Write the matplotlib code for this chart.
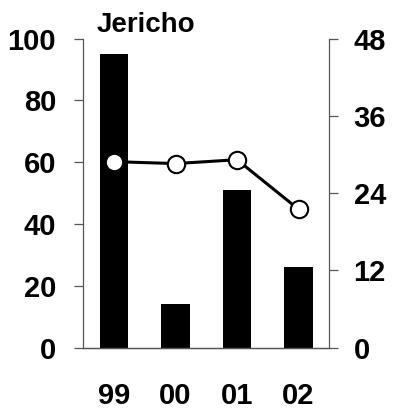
import numpy as np
import matplotlib
matplotlib.use('Agg')
import matplotlib.pyplot as plt

plt.rcParams['font.family'] = ['Liberation Sans', 'DejaVu Sans']
plt.rcParams['font.weight'] = 'bold'

years = ['99', '00', '01', '02']
bar_values = [95, 14, 51, 26]
line_values = [28.9, 28.6, 29.2, 21.5]
left_ticks = [0, 20, 40, 60, 80, 100]
right_ticks = [0, 12, 24, 36, 48]

spine_color = '#555555'

fig = plt.figure(figsize=(4.05, 4.09), dpi=100)
ax = fig.add_axes([0.2057, 0.1499, 0.6073, 0.7555])
x = np.arange(len(years))

ax.bar(x, bar_values, width=0.46, color='black')
ax.set_xlim(-0.5, 3.5)
ax.set_ylim(0, 100)
ax.set_yticks(left_ticks)
ax.set_xticks(x)
ax.set_xticklabels(years)

ax2 = ax.twinx()
ax2.plot(x, line_values, color='black', lw=2.2, marker='o', ms=12.5,
         mfc='white', mec='black', mew=1.5, zorder=3)
ax2.set_ylim(0, 48)
ax2.set_yticks(right_ticks)

for a in (ax, ax2):
    a.spines['top'].set_visible(False)
    for s in a.spines.values():
        s.set_color(spine_color)
        s.set_linewidth(0.9)
    a.tick_params(axis='y', length=6.5, width=0.9, color=spine_color,
                  labelsize=21)
ax.tick_params(axis='y', pad=13)
ax2.tick_params(axis='y', pad=11)
ax.tick_params(axis='x', length=0, pad=25, labelsize=21)
ax2.spines['left'].set_visible(False)
ax.spines['right'].set_visible(False)

ax.text(0.055, 1.022, 'Jericho', transform=ax.transAxes, ha='left',
        va='baseline', fontsize=20, fontweight='bold')

fig.savefig('out.png', dpi=100)
